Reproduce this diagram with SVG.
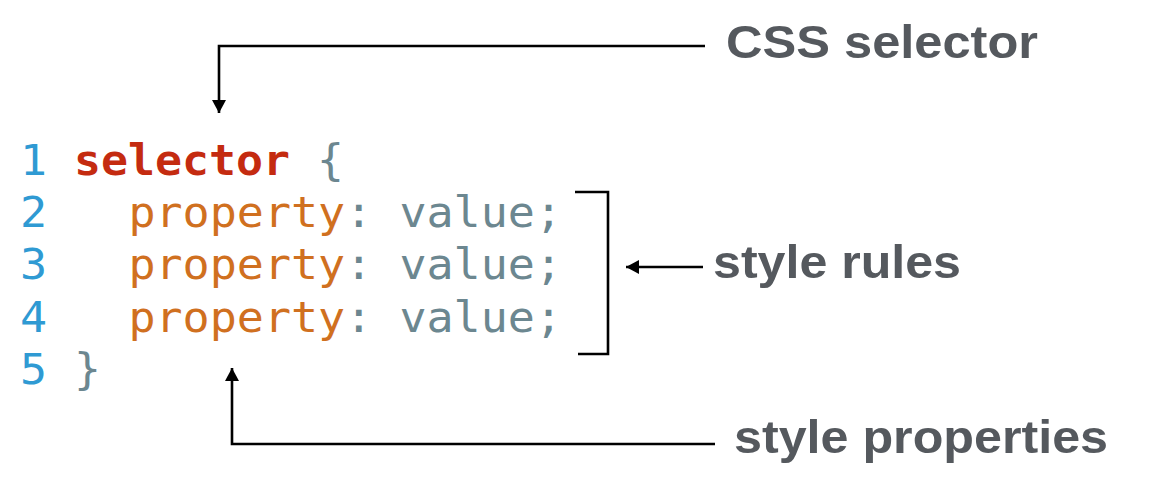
<svg xmlns="http://www.w3.org/2000/svg" width="1152" height="496" viewBox="0 0 1152 496">
<style>
.code{font-family:"DejaVu Sans Mono","Liberation Mono",monospace;font-size:43px}
.ln{fill:#2f9ad3}
.sel{fill:#c42b10;font-weight:bold}
.prop{fill:#d0701f}
.val{fill:#6c8790}
.pun{fill:#6c8790}
.label{font-family:"Liberation Sans",Arial,sans-serif;font-weight:bold;font-size:46px;fill:#55595e}
.conn{fill:none;stroke:#000;stroke-width:2.6}
</style>
<defs>
<marker id="arrow" markerUnits="userSpaceOnUse" markerWidth="14" markerHeight="14" viewBox="0 0 14 14" refX="13" refY="7" orient="auto">
<path d="M0,0 L13,7 L0,14 z" fill="#000"/>
</marker>
</defs>
<rect width="1152" height="496" fill="#fff"/>
<g id="code">
<text class="code" x="20" y="175" xml:space="preserve" textLength="324" lengthAdjust="spacingAndGlyphs"><tspan class="ln">1</tspan> <tspan class="sel">selector</tspan> <tspan class="pun">{</tspan></text>
<text class="code" x="20" y="227.2" xml:space="preserve" textLength="542" lengthAdjust="spacingAndGlyphs"><tspan class="ln">2</tspan>   <tspan class="prop">property</tspan><tspan class="pun">:</tspan> <tspan class="val">value;</tspan></text>
<text class="code" x="20" y="279.4" xml:space="preserve" textLength="542" lengthAdjust="spacingAndGlyphs"><tspan class="ln">3</tspan>   <tspan class="prop">property</tspan><tspan class="pun">:</tspan> <tspan class="val">value;</tspan></text>
<text class="code" x="20" y="331.6" xml:space="preserve" textLength="542" lengthAdjust="spacingAndGlyphs"><tspan class="ln">4</tspan>   <tspan class="prop">property</tspan><tspan class="pun">:</tspan> <tspan class="val">value;</tspan></text>
<text class="code" x="20" y="383.8" xml:space="preserve" textLength="81" lengthAdjust="spacingAndGlyphs"><tspan class="ln">5</tspan> <tspan class="pun">}</tspan></text>
</g>
<g id="bracket">
<path class="conn" d="M575,192 H608 V354 H578"/>
</g>
<g id="label-css-selector">
<text class="label" x="726" y="58" textLength="312" lengthAdjust="spacingAndGlyphs">CSS selector</text>
</g>
<g id="label-style-rules">
<text class="label" x="713" y="278" textLength="248" lengthAdjust="spacingAndGlyphs">style rules</text>
</g>
<g id="label-style-properties">
<text class="label" x="734" y="453" textLength="374" lengthAdjust="spacingAndGlyphs">style properties</text>
</g>
<g id="connectors">
<path class="conn" d="M705,46 H219 V113" marker-end="url(#arrow)"/>
<path class="conn" d="M703,267 H626" marker-end="url(#arrow)"/>
<path class="conn" d="M715,444 H232 V368" marker-end="url(#arrow)"/>
</g>
</svg>
